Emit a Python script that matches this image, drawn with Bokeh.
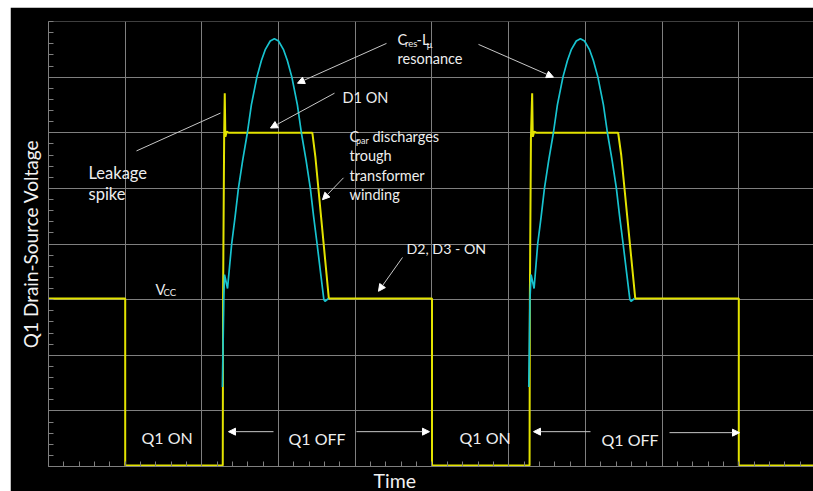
from bokeh.plotting import figure
from bokeh.models import (FixedTicker, Label, Arrow, NormalHead, Range1d, Title, Spacer,
                          CustomJSTickFormatter)
from bokeh.layouts import column, row
from bokeh.embed import file_html
from bokeh.resources import INLINE

# ---- data (time and voltage in screen divisions) ----
yellow_t = [0.0, 1.0, 1.0, 2.272, 2.276, 2.29, 2.298, 2.306, 2.325, 2.35, 3.44, 3.48, 3.655,
            5.0, 5.0, 6.272, 6.276, 6.29, 6.306, 6.314, 6.333, 6.36, 7.427, 7.467, 7.65,
            9.0, 9.0, 9.974]
yellow_v = [3.02, 3.02, 0.02, 0.02, 3.0, 5.9, 6.71, 5.93, 6.02, 6.0, 6.0, 5.56, 3.02,
            3.02, 0.02, 0.02, 3.0, 5.9, 6.71, 5.93, 6.02, 6.0, 6.0, 5.6, 3.02,
            3.02, 0.02, 0.02]

cyan1_t = [2.268, 2.285, 2.295, 2.334, 2.388, 2.434, 2.476, 2.531, 2.593, 2.645, 2.717, 2.776,
           2.828, 2.891, 2.945, 2.999, 3.062, 3.114, 3.173, 3.245, 3.297, 3.359, 3.414, 3.456,
           3.502, 3.546, 3.590, 3.605, 3.65]
cyan2_t = [6.262, 6.277, 6.292, 6.331, 6.378, 6.424, 6.466, 6.521, 6.583, 6.635, 6.707, 6.766,
           6.818, 6.881, 6.935, 6.989, 7.052, 7.104, 7.163, 7.235, 7.287, 7.349, 7.404, 7.446,
           7.492, 7.536, 7.580, 7.595, 7.64]
cyan_v = [1.43, 3.0, 3.45, 3.2, 4.0, 4.5, 5.0, 5.5, 6.0, 6.5, 7.0, 7.3,
          7.5, 7.65, 7.69, 7.65, 7.5, 7.3, 7.0, 6.5, 6.0, 5.5, 5.0, 4.5,
          4.0, 3.5, 3.0, 2.97, 3.02]

x_major = list(range(0, 11))
y_major = list(range(0, 9))

# ---- layout helpers: reference-pixel -> data coordinates (annotation placement) ----
def X(px):
    return (px - 48) / 76.7

def Y(py):
    return (468 - py) / 55.875

FONT = "Lato"
TXT = "#eeeeee"
GRID = "#7f7f7f"

p = figure(width=803, height=484, output_backend="svg", toolbar_location=None,
           x_range=Range1d(0, 9.974), y_range=Range1d(0, 8),
           min_border_left=38, min_border_right=0, min_border_top=14, min_border_bottom=23,
           background_fill_color="black", border_fill_color="black", outline_line_color=None)

minor_x = [i * 0.2 for i in range(0, 51)]
minor_y = [i * 0.2 for i in range(0, 41)]

for ax, tk in ((p.xaxis, minor_x), (p.yaxis, minor_y)):
    ax.ticker = FixedTicker(ticks=tk)
    ax.formatter = CustomJSTickFormatter(code="return ''")
    ax.major_tick_in = 5
    ax.major_tick_out = 0
    ax.major_tick_line_color = GRID
    ax.minor_tick_line_color = None
    ax.axis_line_color = GRID
    ax.major_label_standoff = 0

p.yaxis.axis_label = "Q1 Drain-Source Voltage"
p.yaxis.axis_label_text_color = "#f2f2f2"
p.yaxis.axis_label_text_font = FONT
p.yaxis.axis_label_text_font_size = "19px"
p.yaxis.axis_label_text_font_style = "normal"
p.yaxis.axis_label_standoff = 7

p.add_layout(Title(text="Time", align="left", offset=325, text_color="#f2f2f2",
                   text_font=FONT, text_font_size="19.5px", text_font_style="normal",
                   standoff=0), "below")

p.xgrid.ticker = FixedTicker(ticks=x_major)
p.ygrid.ticker = FixedTicker(ticks=y_major)
p.grid.grid_line_color = GRID
p.grid.grid_line_width = 1

p.line(yellow_t, yellow_v, line_color="#e3e300", line_width=2)
p.line(cyan1_t, cyan_v, line_color="#17c3cf", line_width=1.7)
p.line(cyan2_t, cyan_v, line_color="#17c3cf", line_width=1.7)

# ---- arrows ----
ARROW_LINE = "#c8c8c8"
arrows = [
    ((136, 151), (220, 113), False),
    ((386, 43), (297, 83), True),
    ((478, 44), (553, 77), True),
    ((334, 93), (270, 128), True),
    ((343, 178), (322, 200), True),
    ((402, 258), (378, 292), True),
    ((273, 433), (228, 433), True),
    ((356, 433), (429, 433), True),
    ((590, 433), (533, 433), True),
    ((669, 434), (739, 434), True),
]
for (sx, sy), (ex, ey), head in arrows:
    end = NormalHead(size=7, fill_color="white", line_color="white", line_width=1) if head else None
    p.add_layout(Arrow(end=end, x_start=X(sx), y_start=Y(sy), x_end=X(ex), y_end=Y(ey),
                       line_color=ARROW_LINE, line_width=1))

# ---- texts ----
texts = [
    ("Leakage", 88, 173, 16.5), ("spike", 88, 194.5, 16.5),
    ("C", 397, 39, 14.5), ("res", 404.5, 43, 9.5), ("-L", 416, 39, 14.5), ("\u00b5", 426, 44, 9.5),
    ("resonance", 397, 58, 14.5),
    ("D1 ON", 342, 97, 14.5),
    ("C", 349, 137, 14.5), ("par", 355.5, 140.5, 9), ("discharges", 372, 137, 14.5),
    ("trough", 349, 156, 14.5), ("transformer", 349, 176, 14.5), ("winding", 349, 195, 14.5),
    ("D2, D3 - ON", 406, 249, 14.2),
    ("V", 155, 290, 14.5), ("CC", 163, 293.5, 9.5),
    ("Q1 ON", 141, 438.5, 16), ("Q1 ON", 459, 439, 16),
    ("Q1 OFF", 288, 440, 16), ("Q1 OFF", 601, 441, 16),
]
for t, x, y, s in texts:
    p.add_layout(Label(x=X(x), y=Y(y), text=t, text_color=TXT, text_font=FONT,
                       text_font_size=f"{s}px", text_align="left", text_baseline="alphabetic"))

layout = column(Spacer(width=813, height=7),
                row(Spacer(width=10, height=484), p, spacing=0), spacing=0)

open("out.html", "w").write(file_html(layout, INLINE))
